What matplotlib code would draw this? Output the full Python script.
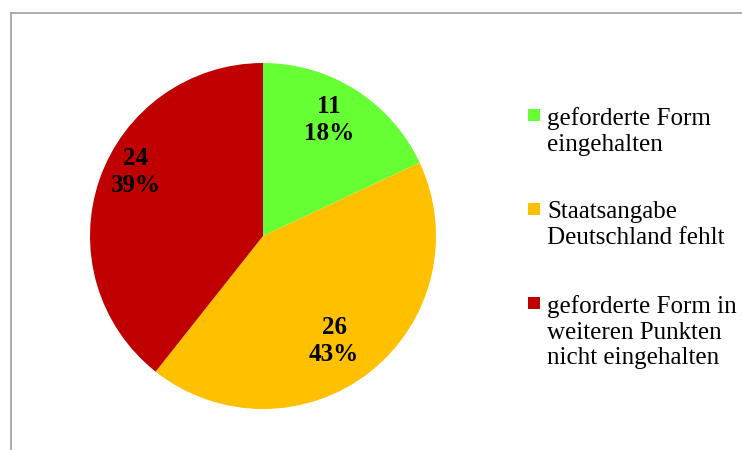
import numpy as np
import matplotlib.pyplot as plt
from matplotlib.lines import Line2D
from matplotlib.patches import Rectangle

labels = ['geforderte Form\neingehalten',
          'Staatsangabe\nDeutschland fehlt',
          'geforderte Form in\nweiteren Punkten\nnicht eingehalten']
counts = [11, 26, 24]
colors = ['#66FF33', '#FFC000', '#C00000']

# label placement tweaks (angle offset in degrees, radial distance)
lab_dang = [2.9, -4.3, -7.5]
lab_dist = [0.772, 0.733, 0.822]

W, H = 742, 450
plt.rcParams['font.family'] = ['Liberation Serif', 'DejaVu Serif']
fig = plt.figure(figsize=(W / 100, H / 100), dpi=100)

cx, cy, r = 263, 236, 173
ax = fig.add_axes([(cx - r) / W, (H - cy - r) / H, 2 * r / W, 2 * r / H])
wedges, _ = ax.pie(counts, colors=colors, startangle=90, counterclock=False,
                   radius=1, wedgeprops=dict(linewidth=0))
ax.set_xlim(-1, 1)
ax.set_ylim(-1, 1)
ax.set_aspect('equal')
ax.axis('off')

total = sum(counts)
for w, n, da, d in zip(wedges, counts, lab_dang, lab_dist):
    mid = np.deg2rad((w.theta1 + w.theta2) / 2 + da)
    pct = round(100 * n / total)
    ax.text(d * np.cos(mid), d * np.sin(mid), f'{n}\n{pct}%',
            ha='center', va='center', fontsize=18, fontweight='bold',
            linespacing=1.25)

# legend drawn by hand
for i, (lab, c) in enumerate(zip(labels, colors)):
    base = 123 + i * 94
    fig.add_artist(Rectangle((528 / W, (H - base + 2) / H), 12 / W, 12 / H,
                             facecolor=c, edgecolor='none',
                             transform=fig.transFigure))
    fig.text(547 / W, (H - base + 16) / H, lab, ha='left', va='top',
             fontsize=18, linespacing=1.22)

# chart area border (top and left visible)
gray = '#A6A6A6'
fig.add_artist(Line2D([10.5 / W, 1], [(H - 13) / H, (H - 13) / H], color=gray, lw=1.3))
fig.add_artist(Line2D([10.5 / W, 10.5 / W], [0, (H - 13) / H], color=gray, lw=1.3))

fig.savefig('out.png', dpi=100)
